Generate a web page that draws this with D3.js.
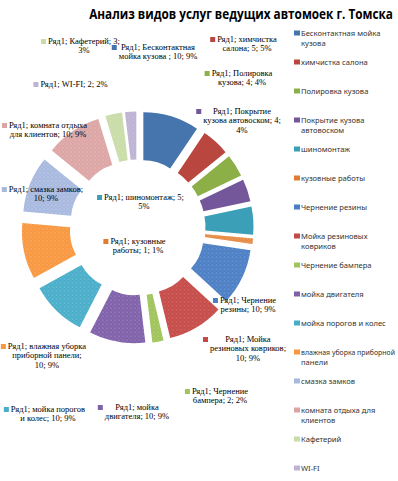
<!DOCTYPE html>
<html>
<head>
<meta charset="utf-8">
<script src="https://cdn.jsdelivr.net/npm/d3@7"></script>
<style>
  body { margin: 0; background: #fff; }
</style>
</head>
<body>
<svg id="chart" width="398" height="481"></svg>
<script>
const title = 'Анализ видов услуг ведущих автомоек г. Томска';
const seriesName = 'Ряд1';
const categories = [
  'Бесконтактная мойка кузова ', 'химчистка салона', 'Полировка кузова',
  'Покрытие кузова автовоском', 'шиномонтаж', 'кузовные работы',
  'Чернение  резины', 'Мойка резиновых ковриков', 'Чернение  бампера',
  'мойка двигателя', 'мойка порогов и колес', 'влажная уборка приборной панели',
  'смазка замков', 'комната отдыха для клиентов', 'Кафетерий', 'WI-FI'
];
const values = [10, 5, 4, 4, 5, 1, 10, 10, 2, 10, 10, 10, 10, 10, 3, 2];

// styles
const colors = [
  '#4674ad', '#b9463f', '#8caf47', '#74569b', '#3b9fb7', '#e07c32',
  '#4b7ec4', '#c54a47', '#a0c35a', '#7f60aa', '#48adc9', '#f8973f',
  '#a8b9df', '#dca5a4', '#c9dca8', '#bdb2d3'
];
const textures = [
  'none', 'none', 'none', 'none', 'none', 'hatch',
  'dots', 'dots', 'dots', 'dots', 'dots', 'dots',
  'dots', 'dots', 'dots', 'dots'
];

// data label layout: words per line, block centre x, first baseline y
const labelWords = [[2, 5], [2, 3], [2, 3], [2, 3, 1], [3, 1], [2, 3], [2, 3], [2, 2, 2],
  [2, 3], [2, 3], [3, 4], [3, 2, 2], [3, 2], [3, 4], [3, 1], [4]];
const labelAt = [[158, 50], [247, 42], [242, 76], [242, 114], [144, 200], [138, 244],
  [248, 303], [248, 342], [220, 394], [137, 410], [48, 412], [47, 349],
  [46, 192], [48, 128], [84, 44], [74, 87]];
// legend: words per line
const legendWords = [[2, 1], [2], [2], [2, 1], [1], [2], [2], [2, 1],
  [2], [2], [4], [3, 1], [2], [3, 1], [1], [1]];

const svg = d3.select('#chart');
const defs = svg.append('defs');

const dots = defs.append('pattern').attr('id', 'dots')
  .attr('width', 4).attr('height', 4).attr('patternUnits', 'userSpaceOnUse');
dots.append('circle').attr('cx', 1).attr('cy', 1).attr('r', 0.6).attr('fill', '#fff').attr('opacity', 0.55);
dots.append('circle').attr('cx', 3).attr('cy', 3).attr('r', 0.5).attr('fill', '#fff').attr('opacity', 0.35);

const hatch = defs.append('pattern').attr('id', 'hatch')
  .attr('width', 3).attr('height', 3).attr('patternUnits', 'userSpaceOnUse');
hatch.append('path').attr('d', 'M0,3L3,0M0,0L3,3').attr('stroke', '#f6b27a').attr('stroke-width', 0.6);

// title, squeezed horizontally to the width of the original narrow font
const titleText = svg.append('text')
  .attr('x', 0).attr('y', 0)
  .attr('text-anchor', 'middle')
  .attr('font-family', 'Open Sans, sans-serif')
  .attr('font-weight', 'bold')
  .attr('font-size', 15)
  .attr('fill', '#000')
  .text(title);
const titleW = titleText.node().getComputedTextLength();
titleText.attr('transform', 'translate(241,19) scale(' + (304 / titleW) + ',1)');

// doughnut
const cx = 137.5, cy = 227.5, outerR = 96, innerR = 48, explode = 20;
const total = d3.sum(values);
const pie = d3.pie().sort(null).value(d => d)(values);
const arc = d3.arc().innerRadius(innerR).outerRadius(outerR);

const g = svg.append('g').attr('transform', 'translate(' + cx + ',' + cy + ')');
const slices = g.selectAll('g.slice').data(pie).enter().append('g')
  .attr('class', 'slice')
  .attr('transform', function (d) {
    const m = (d.startAngle + d.endAngle) / 2;
    return 'translate(' + explode * Math.sin(m) + ',' + (-explode * Math.cos(m)) + ')';
  });

slices.append('path').attr('d', arc).attr('fill', d => colors[d.index]);
slices.filter(d => textures[d.index] !== 'none')
  .append('path').attr('d', arc)
  .attr('fill', d => 'url(#' + textures[d.index] + ')');

// split a string into lines holding the given numbers of words
function splitWords(str, counts) {
  const words = str.trim().split(/\s+/);
  const lines = [];
  let k = 0;
  counts.forEach(function (n) {
    lines.push(words.slice(k, k + n).join(' '));
    k += n;
  });
  return lines;
}

// data labels
const labels = svg.append('g')
  .attr('font-family', 'Liberation Serif, Times New Roman, serif')
  .attr('font-size', 8.5)
  .attr('fill', '#000');

values.forEach(function (v, i) {
  const pct = Math.round(v / total * 100);
  const lines = splitWords(seriesName + '; ' + categories[i] + '; ' + v + '; ' + pct + '%', labelWords[i]);
  const t = labels.append('text')
    .attr('text-anchor', 'middle');
  lines.forEach(function (line, j) {
    t.append('tspan')
      .attr('x', labelAt[i][0])
      .attr('y', labelAt[i][1] + j * 9.3)
      .text(line);
  });
  const box = t.node().getBBox();
  labels.append('rect')
    .attr('x', box.x - 7).attr('y', labelAt[i][1] - 5)
    .attr('width', 5).attr('height', 5)
    .attr('fill', colors[i]);
});

// legend
const legendFont = 7.6;
const legend = svg.append('g')
  .attr('font-family', 'Noto Sans, sans-serif')
  .attr('font-size', legendFont)
  .attr('fill', '#333');

categories.forEach(function (c, i) {
  const y = 36 + 29 * i;
  legend.append('rect')
    .attr('x', 294).attr('y', y - 5.5)
    .attr('width', 6).attr('height', 5)
    .attr('fill', colors[i]);
  splitWords(c, legendWords[i]).forEach(function (line, j) {
    const t = legend.append('text')
      .attr('x', 301)
      .attr('y', y + j * 9.5)
      .text(line);
    const w = t.node().getComputedTextLength();
    if (w > 94) {
      t.attr('font-size', legendFont * 94 / w);
    }
  });
});
</script>
</body>
</html>
